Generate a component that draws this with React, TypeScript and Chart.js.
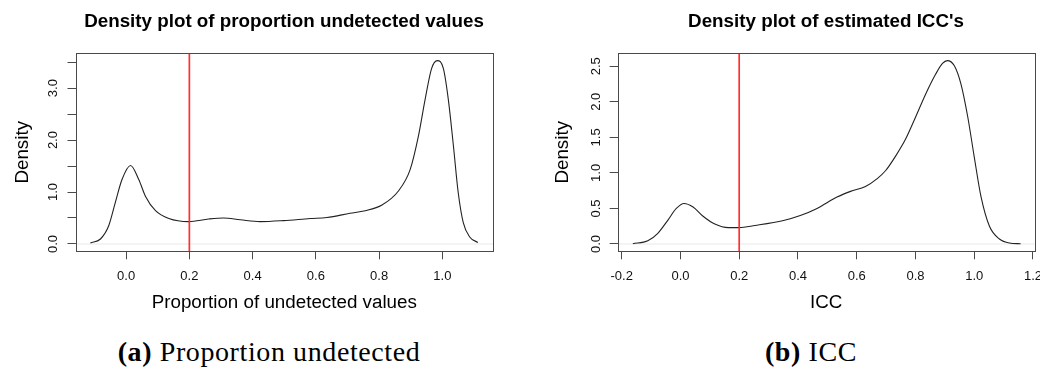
import React, { useEffect, useRef } from 'react';
import { Chart, registerables } from 'chart.js';

Chart.register(...registerables);

// ---------- Panel (a): proportion undetected ----------
const propTitle = 'Density plot of proportion undetected values';
const propXLabel = 'Proportion of undetected values';
const propX = [-0.113, -0.081, -0.055, -0.034, -0.013, 0.014, 0.040, 0.061, 0.093, 0.135, 0.198, 0.261, 0.308, 0.361, 0.424, 0.498, 0.582, 0.635, 0.708, 0.756, 0.809, 0.861, 0.898, 0.924, 0.945, 0.966, 0.984, 1.003, 1.019, 1.035, 1.050, 1.066, 1.087, 1.112];
const propDensity = [0.02, 0.096, 0.35, 0.80, 1.24, 1.51, 1.24, 0.92, 0.64, 0.49, 0.43, 0.48, 0.50, 0.465, 0.43, 0.45, 0.49, 0.51, 0.59, 0.64, 0.75, 1.02, 1.43, 2.07, 2.77, 3.38, 3.53, 3.38, 2.77, 1.88, 0.99, 0.41, 0.13, 0.03];
const propXRange = [-0.16, 1.16];
const propYRange = [-0.141, 3.671];
const propXTicks = [0, 0.2, 0.4, 0.6, 0.8, 1.0];
const propXTickLabels = ['0.0', '0.2', '0.4', '0.6', '0.8', '1.0'];
const propYTicks = [0, 0.5, 1, 1.5, 2, 2.5, 3, 3.5];
const propYTickLabels = ['0.0', '', '1.0', '', '2.0', '', '3.0', ''];
const propCaptionTag = '(a)';
const propCaption = 'Proportion undetected';

// ---------- Panel (b): ICC ----------
const iccTitle = "Density plot of estimated ICC's";
const iccXLabel = 'ICC';
const iccX = [-0.162, -0.111, -0.077, -0.042, -0.014, 0.012, 0.043, 0.077, 0.117, 0.163, 0.199, 0.254, 0.351, 0.408, 0.465, 0.533, 0.579, 0.630, 0.670, 0.698, 0.733, 0.767, 0.801, 0.835, 0.869, 0.892, 0.909, 0.932, 0.955, 0.978, 1.000, 1.023, 1.052, 1.086, 1.120, 1.158];
const iccDensity = [0.004, 0.046, 0.15, 0.34, 0.50, 0.57, 0.52, 0.39, 0.28, 0.23, 0.23, 0.26, 0.33, 0.40, 0.50, 0.66, 0.74, 0.81, 0.92, 1.03, 1.24, 1.48, 1.79, 2.11, 2.39, 2.54, 2.58, 2.51, 2.25, 1.79, 1.23, 0.67, 0.25, 0.07, 0.014, 0.004];
const iccXRange = [-0.2136, 1.206];
const iccYRange = [-0.103, 2.683];
const iccXTicks = [-0.2, 0, 0.2, 0.4, 0.6, 0.8, 1.0, 1.2];
const iccXTickLabels = ['-0.2', '0.0', '0.2', '0.4', '0.6', '0.8', '1.0', '1.2'];
const iccYTicks = [0, 0.5, 1, 1.5, 2, 2.5];
const iccYTickLabels = ['0.0', '0.5', '1.0', '1.5', '2.0', '2.5'];
const iccCaptionTag = '(b)';
const iccCaption = 'ICC';

// threshold marked by the red line in both panels
const threshold = 0.2;
const yAxisTitle = 'Density';

const FONT = "'Liberation Sans', Arial, Helvetica, sans-serif";

const boxPlugin = {
  id: 'rbox',
  afterDatasetsDraw(chart: any) {
    const { ctx, chartArea } = chart;
    ctx.save();
    ctx.strokeStyle = '#4a4a4a';
    ctx.lineWidth = 1;
    ctx.strokeRect(
      Math.round(chartArea.left) + 0.5,
      Math.round(chartArea.top) + 0.5,
      Math.round(chartArea.right) - Math.round(chartArea.left),
      Math.round(chartArea.bottom) - Math.round(chartArea.top)
    );
    ctx.restore();
  },
};

type Panel = {
  title: string;
  xLabel: string;
  xs: number[];
  ys: number[];
  xRange: number[];
  yRange: number[];
  xTicks: number[];
  xTickLabels: string[];
  yTicks: number[];
  yTickLabels: string[];
  yAxisWidth: number;
  rightWidth: number;
  width: number;
  height: number;
  yTickPad: number;
  yTitlePad: number;
};

function makeConfig(p: Panel): any {
  return {
    type: 'scatter',
    data: {
      datasets: [
        {
          data: [
            { x: threshold, y: p.yRange[0] },
            { x: threshold, y: p.yRange[1] },
          ],
          showLine: true,
          borderColor: '#ff3030',
          borderWidth: 1.7,
          pointRadius: 0,
        },
        {
          data: p.xs.map((x, i) => ({ x, y: p.ys[i] })),
          showLine: true,
          borderColor: '#222',
          borderWidth: 1.1,
          pointRadius: 0,
          cubicInterpolationMode: 'monotone',
        },
        {
          data: [
            { x: p.xRange[0], y: 0 },
            { x: p.xRange[1], y: 0 },
          ],
          showLine: true,
          borderColor: '#e8e8e8',
          borderWidth: 1,
          pointRadius: 0,
        },
      ],
    },
    options: {
      animation: false,
      responsive: false,
      maintainAspectRatio: false,
      events: [],
      layout: { padding: 0 },
      plugins: {
        legend: { display: false },
        tooltip: { enabled: false },
        title: {
          display: true,
          text: p.title,
          color: '#000',
          font: { family: FONT, size: 18.8, weight: 'bold' },
          padding: { top: 10.4, bottom: 20.3 },
        },
      },
      scales: {
        x: {
          type: 'linear',
          min: p.xRange[0],
          max: p.xRange[1],
          afterBuildTicks: (s: any) => {
            s.ticks = p.xTicks.map((v) => ({ value: v }));
          },
          afterFit: (s: any) => {
            s.height = 62.7;
          },
          ticks: {
            callback: (_v: any, i: number) => p.xTickLabels[i],
            font: { family: FONT, size: 13 },
            color: '#111',
            padding: 9.5,
            maxRotation: 0,
            minRotation: 0,
            autoSkip: false,
          },
          grid: {
            display: true,
            drawOnChartArea: false,
            drawTicks: true,
            tickLength: 8,
            color: '#4a4a4a',
            lineWidth: 1,
          },
          border: { display: false },
          title: {
            display: true,
            text: p.xLabel,
            color: '#000',
            font: { family: FONT, size: 18.8 },
            padding: { top: 0, bottom: 0 },
          },
        },
        y: {
          type: 'linear',
          position: 'left',
          min: p.yRange[0],
          max: p.yRange[1],
          afterBuildTicks: (s: any) => {
            s.ticks = p.yTicks.map((v) => ({ value: v }));
          },
          afterFit: (s: any) => {
            s.width = p.yAxisWidth;
          },
          ticks: {
            callback: (_v: any, i: number) => p.yTickLabels[i],
            font: { family: FONT, size: 13 },
            color: '#111',
            padding: p.yTickPad,
            minRotation: 90,
            maxRotation: 90,
            crossAlign: 'center',
            autoSkip: false,
          },
          grid: {
            display: true,
            drawOnChartArea: false,
            drawTicks: true,
            tickLength: 8,
            color: '#4a4a4a',
            lineWidth: 1,
          },
          border: { display: false },
          title: {
            display: true,
            text: yAxisTitle,
            color: '#000',
            font: { family: FONT, size: 18.8 },
            padding: { top: p.yTitlePad, bottom: 0 },
          },
        },
        // empty right-hand margin axis so that the title centres over the plot box
        margin: {
          type: 'linear',
          position: 'right',
          display: true,
          afterFit: (s: any) => {
            s.width = p.rightWidth;
          },
          ticks: { display: false },
          grid: { display: false, drawTicks: false },
          border: { display: false },
          title: { display: false },
        },
      },
    },
    plugins: [boxPlugin],
  };
}

function DensityChart({ panel, left }: { panel: Panel; left: number }) {
  const ref = useRef<HTMLCanvasElement | null>(null);
  useEffect(() => {
    if (!ref.current) return;
    const chart = new Chart(ref.current, makeConfig(panel));
    return () => chart.destroy();
  }, [panel]);
  return (
    <canvas
      ref={ref}
      width={panel.width}
      height={panel.height}
      style={{ position: 'absolute', left, top: 0, width: panel.width, height: panel.height }}
    />
  );
}

const panelA: Panel = {
  title: propTitle,
  xLabel: propXLabel,
  xs: propX,
  ys: propDensity,
  xRange: propXRange,
  yRange: propYRange,
  xTicks: propXTicks,
  xTickLabels: propXTickLabels,
  yTicks: propYTicks,
  yTickLabels: propYTickLabels,
  yAxisWidth: 75.5,
  rightWidth: 75,
  width: 568,
  height: 314,
  yTickPad: 5.5,
  yTitlePad: 11.2,
};

const panelB: Panel = {
  title: iccTitle,
  xLabel: iccXLabel,
  xs: iccX,
  ys: iccDensity,
  xRange: iccXRange,
  yRange: iccYRange,
  xTicks: iccXTicks,
  xTickLabels: iccXTickLabels,
  yTicks: iccYTicks,
  yTickLabels: iccYTickLabels,
  yAxisWidth: 77.7,
  rightWidth: 77.3,
  width: 572,
  height: 314,
  yTickPad: 4.5,
  yTitlePad: 11.5,
};

const captionStyle: React.CSSProperties = {
  position: 'absolute',
  top: 338,
  textAlign: 'center',
  fontFamily: "'Liberation Serif', 'Times New Roman', serif",
  fontSize: 28,
  lineHeight: '28px',
  letterSpacing: '0.6px',
  color: '#000',
  whiteSpace: 'nowrap',
};

export default function App() {
  return (
    <div
      style={{
        position: 'fixed',
        left: 0,
        top: 0,
        width: 1040,
        height: 367,
        overflow: 'hidden',
        background: '#fff',
      }}
    >
      <DensityChart panel={panelA} left={0} />
      <DensityChart panel={panelB} left={540} />
      <div style={{ ...captionStyle, left: 0, width: 538 }}>
        <b>{propCaptionTag}</b> {propCaption}
      </div>
      <div style={{ ...captionStyle, left: 582, width: 458 }}>
        <b>{iccCaptionTag}</b> {iccCaption}
      </div>
    </div>
  );
}
